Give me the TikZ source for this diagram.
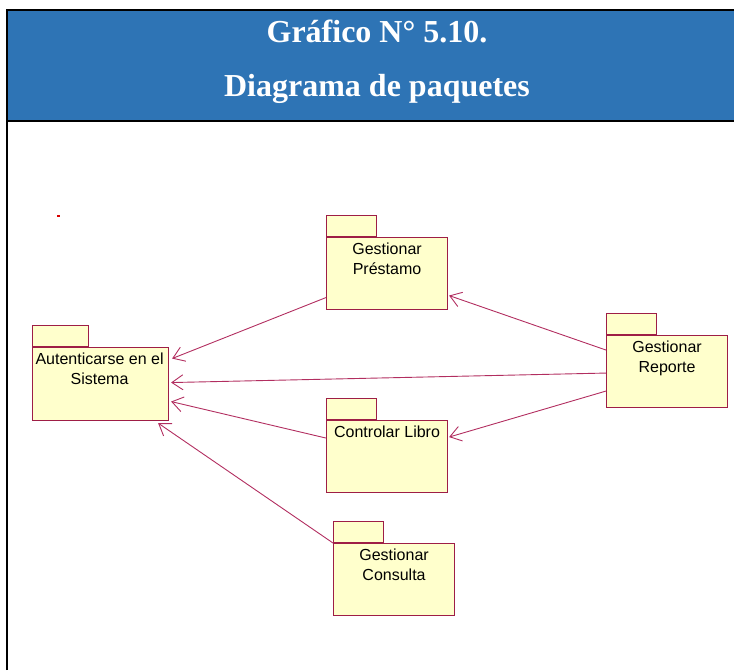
\documentclass[tikz,border=0pt]{standalone}
\usepackage{fontspec}
\setmainfont{Liberation Serif}
\newfontfamily\pkgfont{Liberation Sans}
\usetikzlibrary{arrows.meta}
\definecolor{hdrblue}{RGB}{46,116,181}
\definecolor{pkgfill}{RGB}{255,255,204}
\definecolor{pkgline}{RGB}{158,30,70}
\definecolor{deplink}{RGB}{178,46,96}
\begin{document}
\begin{tikzpicture}[x=1pt,y=-1pt,
  pkgbody/.style={draw=pkgline, fill=pkgfill, line width=1.1pt, rectangle,
    inner sep=0pt, anchor=north west, minimum width=121pt, minimum height=72pt},
  pkgtab/.style={draw=pkgline, fill=pkgfill, line width=1.1pt, rectangle,
    inner sep=0pt, anchor=south west, minimum width=50pt, minimum height=21pt},
  pkglabel/.style={font=\pkgfont\fontsize{16}{20}\selectfont, align=center,
    inner sep=0pt, anchor=north, text=black},
  titletext/.style={font=\bfseries\fontsize{32}{32}\selectfont, text=white,
    inner sep=0pt, anchor=base},
  deparrow/.style={draw=deplink, line width=0.9pt,
    -{Straight Barb[length=11pt,width=15pt,line width=0.9pt]}}]
\useasboundingbox (0,0) rectangle (734,670);

% header band and frame
\fill[hdrblue] (7,10) rectangle (734,121);
\draw[line width=2pt] (7,670) -- (7,10) -- (734,10);
\draw[line width=2pt] (7,121) -- (734,121);
\node[titletext] (title1) at (377,42) {Gráfico N° 5.10.};
\node[titletext] (title2) at (377,96) {Diagrama de paquetes};

% stray mark
\fill[red!85!black] (57,215) rectangle (60,217);

% packages: body, tab, label
\node[pkgbody, minimum width=136pt, minimum height=73pt] (aut) at (32,347) {};
\node[pkgtab, minimum width=56pt] (autTab) at (aut.north west) {};
\node[pkglabel] (autL) at ([xshift=-1pt,yshift=-6pt]aut.north) {Autenticarse en el\\Sistema};

\node[pkgbody] (prest) at (326,237) {};
\node[pkgtab] (prestTab) at (prest.north west) {};
\node[pkglabel] (prestL) at ([yshift=-6pt]prest.north) {Gestionar\\Préstamo};

\node[pkgbody] (rep) at (606,335) {};
\node[pkgtab] (repTab) at (rep.north west) {};
\node[pkglabel] (repL) at ([yshift=-6pt]rep.north) {Gestionar\\Reporte};

\node[pkgbody] (libro) at (326,420) {};
\node[pkgtab] (libroTab) at (libro.north west) {};
\node[pkglabel] (libroL) at ([yshift=-6pt]libro.north) {Controlar Libro};

\node[pkgbody] (cons) at (333,543) {};
\node[pkgtab] (consTab) at (cons.north west) {};
\node[pkglabel] (consL) at ([yshift=-6pt]cons.north) {Gestionar\\Consulta};

% dependencies
\draw[deparrow] ([yshift=-24pt]prest.west) -- ([shift={(3pt,25.5pt)}]aut.east);
\draw[deparrow] ([yshift=-1.5pt]rep.west) -- ([shift={(2pt,1.5pt)}]aut.east);
\draw[deparrow] ([yshift=18.5pt]libro.west) -- ([shift={(2pt,-17.5pt)}]aut.east);
\draw[deparrow] (cons.north west) -- ([shift={(-11pt,-2pt)}]aut.south east);
\draw[deparrow] ([yshift=21.5pt]rep.west) -- ([shift={(1pt,-22pt)}]prest.east);
\draw[deparrow] ([yshift=-19.5pt]rep.west) -- ([shift={(1pt,19.5pt)}]libro.east);
\end{tikzpicture}
\end{document}
